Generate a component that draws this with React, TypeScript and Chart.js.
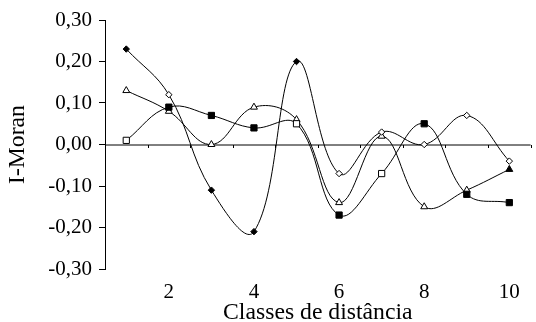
import React, { useEffect, useRef } from "react";
import { Chart, registerables } from "chart.js";

Chart.register(...registerables);

const classes = ["1", "2", "3", "4", "5", "6", "7", "8", "9", "10"];
const diamondValues = [0.23, 0.12, -0.11, -0.21, 0.2, -0.07, 0.03, 0.0, 0.07, -0.04];
const diamondFilled = [1, 0, 1, 1, 1, 0, 0, 0, 0, 0];
const squareValues = [0.01, 0.09, 0.07, 0.04, 0.05, -0.17, -0.07, 0.05, -0.12, -0.14];
const squareFilled = [0, 1, 1, 1, 0, 1, 0, 1, 1, 1];
const triangleValues = [0.13, 0.08, 0.0, 0.09, 0.06, -0.14, 0.02, -0.15, -0.11, -0.06];
const triangleFilled = [0, 0, 0, 0, 0, 0, 0, 0, 0, 1];
const yTickValues = [-0.3, -0.2, -0.1, 0, 0.1, 0.2, 0.3];
const yTitle = "I-Moran";
const xTitle = "Classes de distância";

const FONT = "'Liberation Serif', 'Times New Roman', serif";

const fills = (flags: number[]) => flags.map((f) => (f ? "#000" : "#fff"));

const zeroAxisPlugin = {
  id: "zeroAxis",
  beforeDatasetsDraw(chart: any) {
    const { ctx, chartArea, scales } = chart;
    const y0 = Math.round(scales.y.getPixelForValue(0));
    ctx.save();
    ctx.strokeStyle = "#000";
    ctx.lineWidth = 1;
    ctx.beginPath();
    ctx.moveTo(chartArea.left, y0);
    ctx.lineTo(chartArea.right, y0);
    ctx.stroke();
    const xs = scales.x;
    for (let i = 0; i < classes.length; i++) {
      const a = xs.getPixelForValue(i);
      const b = i + 1 < classes.length ? xs.getPixelForValue(i + 1) : a + (a - xs.getPixelForValue(i - 1));
      const bx = Math.round((a + b) / 2) + 0.5;
      ctx.beginPath();
      ctx.moveTo(bx, y0);
      ctx.lineTo(bx, y0 + 3);
      ctx.stroke();
    }
    ctx.restore();
  },
};

export default function App() {
  const ref = useRef<HTMLCanvasElement | null>(null);
  useEffect(() => {
    if (!ref.current) return;
    const common = {
      borderColor: "#000",
      borderWidth: 1,
      pointBorderColor: "#000",
      pointBorderWidth: 1,
      tension: 0.4,
      fill: false,
    };
    const chart = new Chart(ref.current, {
      type: "line",
      data: {
        labels: classes,
        datasets: [
          {
            ...common,
            label: "losango",
            data: diamondValues,
            pointStyle: "rectRot",
            pointRadius: 3.2,
            pointBackgroundColor: fills(diamondFilled),
          },
          {
            ...common,
            label: "quadrado",
            data: squareValues,
            pointStyle: "rect",
            pointRadius: 4.4,
            pointBackgroundColor: fills(squareFilled),
          },
          {
            ...common,
            label: "triângulo",
            data: triangleValues,
            pointStyle: "triangle",
            pointRadius: 4,
            pointBackgroundColor: fills(triangleFilled),
          },
        ],
      },
      options: {
        responsive: false,
        maintainAspectRatio: false,
        devicePixelRatio: 1,
        animation: false,
        layout: { padding: { left: 0, top: 20, right: 1, bottom: 0 } },
        plugins: {
          legend: { display: false },
          tooltip: { enabled: false },
        },
        scales: {
          x: {
            type: "category",
            offset: true,
            grid: { display: false, offset: true },
            border: { display: false },
            afterFit: (s: any) => {
              s.height = 53;
            },
            ticks: {
              autoSkip: false,
              maxRotation: 0,
              minRotation: 0,
              padding: 3,
              color: "#000",
              font: { family: FONT, size: 21 },
              callback: (_v: any, i: number) => (i % 2 === 1 ? classes[i] : ""),
            },
            title: {
              display: true,
              text: xTitle,
              color: "#000",
              font: { family: FONT, size: 23.7, lineHeight: 1 },
              padding: { top: 0, bottom: -3 },
            },
          },
          y: {
            type: "linear",
            min: -0.3,
            max: 0.3,
            afterFit: (s: any) => {
              s.width = 105;
            },
            afterBuildTicks: (s: any) => {
              s.ticks = yTickValues.map((v) => ({ value: v }));
            },
            grid: {
              drawOnChartArea: false,
              drawTicks: true,
              tickLength: 6,
              color: "#000",
            },
            border: { display: true, color: "#000", width: 1 },
            ticks: {
              padding: 7,
              color: "#000",
              font: { family: FONT, size: 21 },
              callback: (v: any) => {
                const n = Math.abs(Number(v)) < 1e-9 ? 0 : Number(v);
                return n.toFixed(2).replace(".", ",");
              },
            },
            title: {
              display: true,
              text: yTitle,
              color: "#000",
              font: { family: FONT, size: 23.7, lineHeight: 1 },
              padding: { top: 6, bottom: 0 },
            },
          },
        },
      },
      plugins: [zeroAxisPlugin],
    } as any);
    return () => chart.destroy();
  }, []);
  return (
    <div style={{ position: "absolute", left: 0, top: 0, width: 536, height: 322, background: "#fff" }}>
      <canvas ref={ref} width={536} height={322} style={{ display: "block" }} />
    </div>
  );
}
